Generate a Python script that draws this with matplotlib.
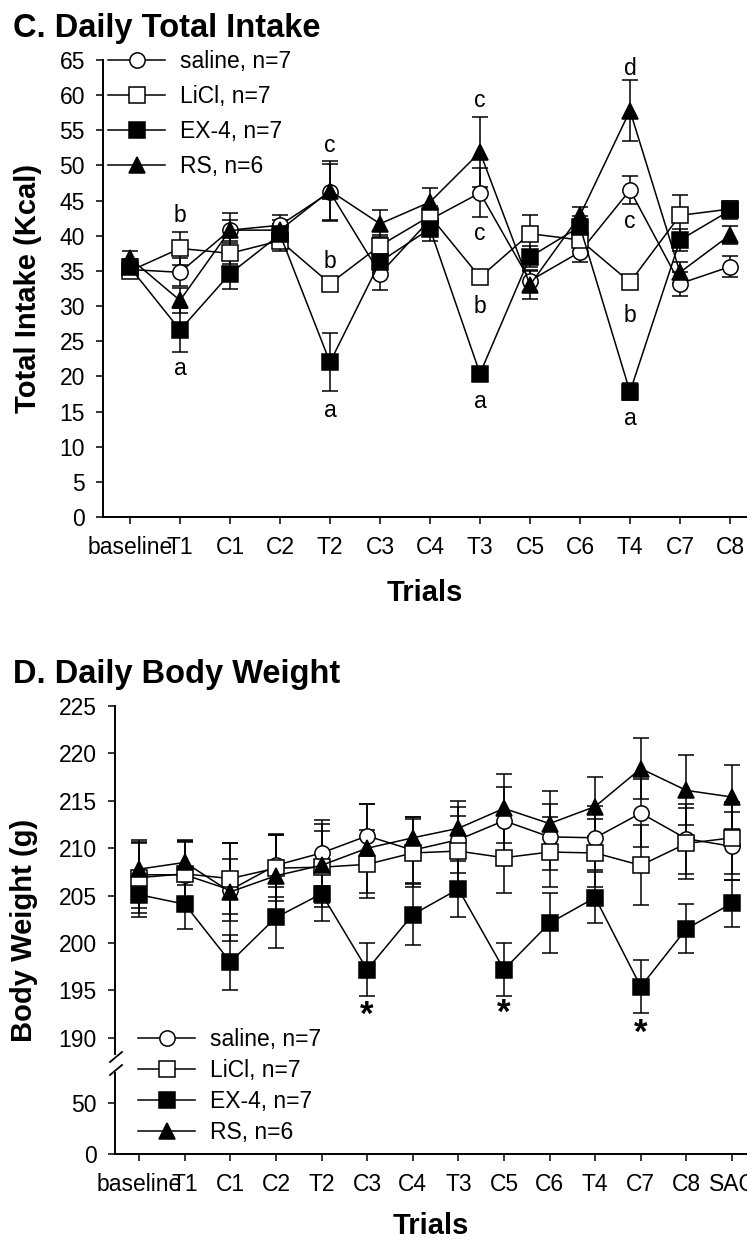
import matplotlib.pyplot as plt
from matplotlib.lines import Line2D

plt.rcParams["font.family"] = ["Liberation Sans", "DejaVu Sans"]

W, H = 747, 1239

# ---- C. daily total intake ----
intake_trials = ["baseline", "T1", "C1", "C2", "T2", "C3", "C4", "T3",
                 "C5", "C6", "T4", "C7", "C8"]
saline_kcal = [35.2, 34.8, 40.8, 41.5, 46.2, 34.6, 42.3, 46.1, 33.6, 37.7, 46.5, 33.2, 35.6]
saline_kcal_sem = [1.0, 2.0, 1.5, 1.5, 4.0, 2.3, 1.5, 3.5, 1.5, 1.4, 2.0, 1.7, 1.5]
licl_kcal = [35.0, 38.2, 37.5, 39.3, 33.2, 38.6, 42.8, 34.1, 40.3, 39.4, 33.4, 42.9, 43.8]
licl_kcal_sem = [1.0, 2.4, 1.5, 1.5, 0.9, 1.5, 1.5, 0.9, 2.6, 1.5, 1.0, 2.9, 1.2]
ex4_kcal = [35.5, 26.6, 34.6, 40.2, 22.0, 36.3, 41.0, 20.4, 37.0, 41.3, 17.8, 39.4, 43.6]
ex4_kcal_sem = [1.2, 3.1, 2.1, 1.5, 4.1, 1.5, 1.8, 1.0, 1.5, 1.5, 1.2, 1.6, 1.2]
rs_kcal = [36.8, 30.8, 40.8, 40.8, 46.4, 41.7, 44.8, 51.9, 33.0, 42.9, 57.8, 34.8, 40.1]
rs_kcal_sem = [1.1, 1.8, 2.4, 1.5, 4.3, 1.9, 2.0, 5.0, 2.0, 1.2, 4.3, 1.5, 1.3]

# significance letters: trial index, height, letter
letter_idx = [1, 1, 4, 4, 4, 7, 7, 7, 7, 10, 10, 10, 10]
letter_y = [42.9, 21.1, 52.9, 36.3, 15.2, 59.3, 40.3, 29.9, 16.4, 63.8, 42.0, 28.7, 14.0]
letter_txt = ["b", "a", "c", "b", "a", "c", "c", "b", "a", "d", "c", "b", "a"]

# ---- D. daily body weight ----
weight_trials = intake_trials + ["SAC"]
saline_g = [207.2, 207.2, 205.6, 208.2, 209.5, 211.3, 209.8, 210.9, 212.9, 211.2, 211.1, 213.7, 211.0, 210.2]
saline_g_sem = [3.5, 3.5, 3.3, 3.3, 3.5, 3.4, 3.5, 3.5, 3.6, 3.5, 3.4, 3.6, 3.7, 3.6]
licl_g = [206.9, 207.3, 206.8, 207.9, 208.0, 208.3, 209.5, 209.7, 209.0, 209.6, 209.5, 208.2, 210.5, 211.1]
licl_g_sem = [3.7, 3.5, 3.7, 3.5, 3.8, 3.6, 3.6, 3.7, 3.7, 3.7, 3.6, 4.2, 3.7, 3.8]
ex4_g = [205.1, 204.1, 198.0, 202.7, 205.2, 197.2, 203.0, 205.7, 197.2, 202.1, 204.8, 195.4, 201.5, 204.2]
ex4_g_sem = [2.3, 2.6, 2.9, 3.2, 2.9, 2.8, 3.2, 3.0, 2.8, 3.2, 2.7, 2.8, 2.6, 2.5]
rs_g = [207.8, 208.5, 205.4, 207.1, 208.2, 210.0, 211.1, 212.1, 214.2, 212.6, 214.4, 218.4, 216.1, 215.4]
rs_g_sem = [3.1, 2.4, 5.2, 4.3, 4.4, 4.7, 2.2, 2.9, 3.6, 3.4, 3.1, 3.2, 3.7, 3.4]

star_idx = [5, 8, 11]
star_y = [192.4, 192.6, 190.5]

groups = ["saline, n=7", "LiCl, n=7", "EX-4, n=7", "RS, n=6"]
markers = ["o", "s", "s", "^"]
fills = ["white", "white", "black", "black"]

TICK_FS = 16.5
LABEL_FS = 21


def px_axes(fig, left, top, right, bottom):
    return fig.add_axes([left / W, 1 - bottom / H, (right - left) / W, (bottom - top) / H])


def style_axis(ax):
    ax.spines["top"].set_visible(False)
    ax.spines["right"].set_visible(False)
    ax.spines["left"].set_linewidth(1.4)
    ax.spines["bottom"].set_linewidth(1.4)
    ax.tick_params(direction="out", length=5, width=1.1, labelsize=TICK_FS, pad=9)
    ax.tick_params(axis="y", pad=8)


def draw_series(ax, means, sems):
    x = list(range(len(means[0])))
    for m, s in zip(means, sems):
        ax.errorbar(x, m, yerr=s, fmt="none", ecolor="black",
                    elinewidth=1.1, capsize=5.5, capthick=1.1, zorder=2)
    for m, lab, mk, fc in zip(means, groups, markers, fills):
        ax.plot(x, m, "-", color="black", lw=1.1, marker=mk, ms=11,
                mfc=fc, mec="black", mew=1.1, label=lab, zorder=3)


fig = plt.figure(figsize=(W / 100, H / 100), dpi=100)

# ---------- panel C ----------
ax = px_axes(fig, 103, 60, 747, 517)
style_axis(ax)
draw_series(ax, [saline_kcal, licl_kcal, ex4_kcal, rs_kcal],
            [saline_kcal_sem, licl_kcal_sem, ex4_kcal_sem, rs_kcal_sem])
for i, y, t in zip(letter_idx, letter_y, letter_txt):
    ax.text(i, y, t, ha="center", va="center", fontsize=TICK_FS)
ax.set_xlim(-0.54, 12.34)
ax.set_ylim(0, 65)
ax.set_yticks(range(0, 66, 5))
ax.set_xticks(range(len(intake_trials)))
ax.set_xticklabels(intake_trials)
ax.set_xlabel("Trials", fontsize=LABEL_FS, fontweight="bold")
ax.xaxis.set_label_coords(0.5, -0.135)
ax.set_ylabel("Total Intake (Kcal)", fontsize=LABEL_FS, fontweight="bold")
ax.yaxis.set_label_coords(-0.094, 0.5)
ax.legend(loc="upper left", bbox_to_anchor=(108 / W, 1 - 50 / H),
          bbox_transform=fig.transFigure, frameon=False, fontsize=TICK_FS,
          handlelength=2.5, handletextpad=0.65, labelspacing=0.53,
          borderpad=0, borderaxespad=0, numpoints=1)
fig.text(13 / W, 1 - 37 / H, "C. Daily Total Intake", fontsize=23.5,
         fontweight="bold", va="baseline")

# ---------- panel D (broken y axis) ----------
ax_hi = px_axes(fig, 115, 706, 747, 1054)
ax_lo = px_axes(fig, 115, 1073, 747, 1154)
for a in (ax_hi, ax_lo):
    style_axis(a)
    a.set_xlim(-0.53, 13.33)
ax_hi.spines["bottom"].set_visible(False)
ax_hi.tick_params(axis="x", bottom=False, labelbottom=False)

draw_series(ax_hi, [saline_g, licl_g, ex4_g, rs_g],
            [saline_g_sem, licl_g_sem, ex4_g_sem, rs_g_sem])
for i, y in zip(star_idx, star_y):
    ax_hi.text(i, y, "*", ha="center", va="center", fontsize=25, fontweight="bold")
ax_hi.set_ylim(188.3, 225)
ax_hi.set_yticks(range(190, 226, 5))

ax_lo.set_ylim(0, 78.8)
ax_lo.set_yticks([0, 50])
ax_lo.set_xticks(range(len(weight_trials)))
ax_lo.set_xticklabels(weight_trials)
ax_lo.set_xlabel("Trials", fontsize=LABEL_FS, fontweight="bold")
ax_lo.xaxis.set_label_coords(0.5, -0.71)

fig.text(24 / W, 1 - 930 / H, "Body Weight (g)", rotation=90, fontsize=LABEL_FS,
         fontweight="bold", ha="center", va="center")
fig.text(13 / W, 1 - 683 / H, "D. Daily Body Weight", fontsize=23.5,
         fontweight="bold", va="baseline")

# break marks on the y axis
for y0 in (1062, 1075):
    fig.add_artist(Line2D([110 / W, 122 / W], [1 - y0 / H, 1 - (y0 - 10) / H],
                          transform=fig.transFigure, color="black", lw=1.3))

handles, labels = ax_hi.get_legend_handles_labels()
fig.legend(handles, labels, loc="upper left", bbox_to_anchor=(138 / W, 1 - 1028 / H),
           bbox_transform=fig.transFigure, frameon=False, fontsize=TICK_FS,
           handlelength=2.5, handletextpad=0.65, labelspacing=0.35,
           borderpad=0, borderaxespad=0, numpoints=1)

fig.savefig("out.png", dpi=100)
